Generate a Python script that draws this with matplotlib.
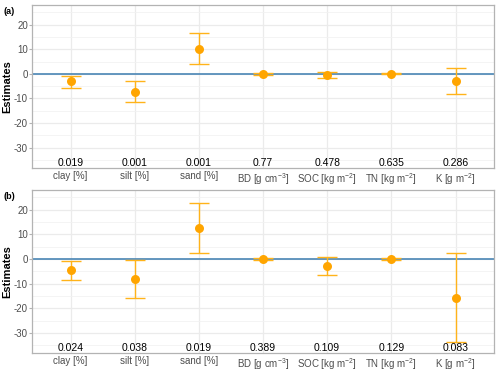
import matplotlib.pyplot as plt
from matplotlib.ticker import MultipleLocator

plt.rcParams['font.family'] = ['Liberation Sans', 'DejaVu Sans']
plt.rcParams['axes.unicode_minus'] = False
plt.rcParams['mathtext.fontset'] = 'custom'
plt.rcParams['mathtext.rm'] = 'Liberation Sans'

labels = ["clay [%]", "silt [%]", "sand [%]", r"BD [g cm$^{-3}$]",
          r"SOC [kg m$^{-2}$]", r"TN [kg m$^{-2}$]", r"K [g m$^{-2}$]"]

# panel (a)
est_a = [-3.0, -7.3, 10.2, 0.0, -0.4, 0.0, -2.8]
lo_a = [-5.7, -11.5, 3.9, -0.3, -1.5, -0.2, -8.1]
hi_a = [-0.8, -3.1, 16.4, 0.3, 0.7, 0.2, 2.3]
p_a = ["0.019", "0.001", "0.001", "0.77", "0.478", "0.635", "0.286"]

# panel (b)
est_b = [-4.5, -8.2, 12.6, 0.0, -3.0, 0.0, -15.8]
lo_b = [-8.4, -15.9, 2.3, -0.3, -6.5, -0.3, -33.9]
hi_b = [-0.8, -0.5, 22.8, 0.3, 0.7, 0.3, 2.3]
p_b = ["0.024", "0.038", "0.019", "0.389", "0.109", "0.129", "0.083"]

fig = plt.figure(figsize=(5, 3.74), dpi=100)
ax1 = fig.add_axes([0.064, 0.551, 0.924, 0.436])
ax2 = fig.add_axes([0.064, 0.056, 0.924, 0.436])


def panel(ax, est, lo, hi, pv, tag):
    x = list(range(1, len(est) + 1))
    ax.set_xlim(0.4, 7.6)
    ax.set_ylim(-38.2, 28)
    ax.yaxis.set_major_locator(MultipleLocator(10))
    ax.yaxis.set_minor_locator(MultipleLocator(5))
    ax.grid(True, which="major", color="#ebebeb", lw=0.9, zorder=0)
    ax.grid(True, which="minor", axis="y", color="#f2f2f2", lw=0.6, zorder=0)
    ax.axhline(0, color="#4a86b5", lw=1.2, zorder=2)
    yerr = [[e - l for e, l in zip(est, lo)], [h - e for e, h in zip(est, hi)]]
    ax.errorbar(x, est, yerr=yerr, fmt="none", ecolor="#ffb31a", elinewidth=1.0,
                capsize=7, capthick=1.0, zorder=3)
    ax.scatter(x, est, s=42, color="#ffa500", zorder=4, linewidths=0)
    for xi, p in zip(x, pv):
        ax.text(xi, -36.3, p, ha="center", va="center", fontsize=7.5, color="black")
    ax.set_xticks(x)
    ax.set_xticklabels(labels)
    ax.tick_params(axis="both", labelsize=7, labelcolor="#4d4d4d", length=2,
                   color="#b3b3b3", pad=1)
    ax.tick_params(axis="y", which="minor", length=0)
    ax.tick_params(axis="x", length=0, pad=2)
    for s in ax.spines.values():
        s.set_color("#b3b3b3")
        s.set_linewidth(0.9)
    ax.set_ylabel("Estimates", fontsize=8, fontweight="bold")
    ax.yaxis.set_label_coords(-0.042, 0.5)
    fig.text(0.006, ax.get_position().y1 - 0.006, tag, fontsize=6.5,
             fontweight="bold", va="top", ha="left")


panel(ax1, est_a, lo_a, hi_a, p_a, "(a)")
panel(ax2, est_b, lo_b, hi_b, p_b, "(b)")

fig.savefig("out.png", dpi=100)
